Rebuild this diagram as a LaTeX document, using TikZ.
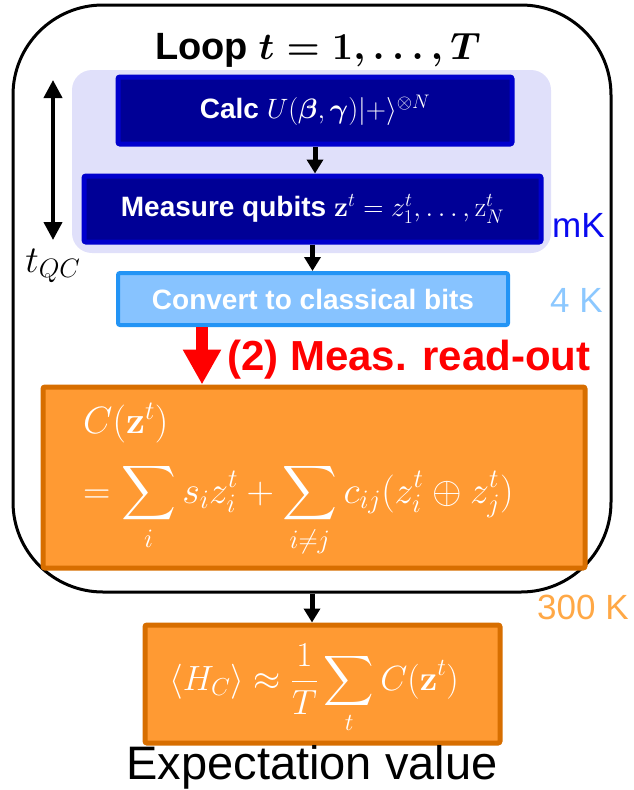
\RequirePackage{fix-cm}
\documentclass[tikz,border=0pt]{standalone}
\usepackage{amsmath}
\usepackage[no-math]{fontspec}
\setmainfont{Liberation Sans}
\DeclareFontShape{OMX}{cmex}{m}{n}{<->cmex10}{}
\usetikzlibrary{
    arrows.meta,
    positioning
}
\definecolor{navy}{RGB}{0,0,150}
\definecolor{navyedge}{RGB}{0,0,205}
\definecolor{lavender}{RGB}{224,224,250}
\definecolor{skyfill}{RGB}{135,195,255}
\definecolor{skyedge}{RGB}{35,148,245}
\definecolor{skytext}{RGB}{140,200,255}
\definecolor{mkblue}{RGB}{10,10,240}
\definecolor{orangefill}{RGB}{255,154,51}
\definecolor{orangeedge}{RGB}{215,110,0}
\definecolor{roomtext}{RGB}{255,168,70}
\newcommand{\boxfont}{\fontsize{28}{32}\selectfont\bfseries}
\newcommand{\titlefont}{\fontsize{38}{44}\selectfont\bfseries}
\newcommand{\tempfont}{\fontsize{35}{40}\selectfont}
\newcommand{\formfont}{\fontsize{38}{46}\selectfont}
\tikzstyle{loopbox} = [
    rectangle,
    rounded corners=90pt,
    draw=black,
    line width=3pt
]
\tikzstyle{zone} = [
    rectangle,
    rounded corners=20pt,
    fill=lavender
]
\tikzstyle{qbox} = [
    rectangle,
    rounded corners=2pt,
    draw=navyedge,
    line width=5pt,
    fill=navy,
    text=white,
    font=\boxfont
]
\tikzstyle{cbox} = [
    rectangle,
    rounded corners=2pt,
    draw=skyedge,
    line width=4pt,
    fill=skyfill,
    text=white,
    font=\boxfont
]
\tikzstyle{obox} = [
    rectangle,
    rounded corners=2pt,
    draw=orangeedge,
    line width=5pt,
    fill=orangefill
]
\tikzstyle{formula} = [
    text=white,
    font=\formfont,
    inner sep=0pt
]
\tikzstyle{templabel} = [
    font=\tempfont,
    inner sep=0pt,
    anchor=base west
]
\tikzstyle{flow} = [
    -{Triangle[length=14pt,width=16pt]},
    line width=5pt,
    draw=black
]
\tikzstyle{span} = [
    {Triangle[length=18pt,width=18pt]}-{Triangle[length=18pt,width=18pt]},
    line width=4pt,
    draw=black
]
\tikzstyle{readout} = [
    -{Triangle[length=35pt,width=36pt]},
    line width=12pt,
    draw=red
]

\begin{document}
\begin{tikzpicture}[x=1pt, y=-1pt]
        \useasboundingbox (0,0) rectangle (634,790);

        % Loop frame
        \node[loopbox, minimum width=598pt, minimum height=587pt] (loop) at (312,298.5) {};
        \node[font=\titlefont, anchor=base, inner sep=0pt] (title) at (318,59)
            {Loop {\boldmath$t = 1, \dots, T$}};

        % mK stage
        \node[zone, minimum width=479pt, minimum height=183pt] (cold) at (311.5,161.5) {};
        \node[qbox, minimum width=394pt, minimum height=67pt] (calc) at (315,110.5)
            {Calc $U(\boldsymbol{\beta},\boldsymbol{\gamma})|{+}\rangle^{\otimes N}$};
        \node[qbox, minimum width=457pt, minimum height=66pt] (meas) at (312.5,209)
            {Measure qubits $\mathbf{z}^t = z_1^t, \dots, \mathrm{z}_N^t$};
        \node[templabel, text=mkblue] (mk) at (552,237) {mK};

        % QC time
        \coordinate (tqtop) at (53,80);
        \coordinate (tqbot) at (53,240);
        \node[font=\fontsize{38}{44}\selectfont, inner sep=0pt] (tqc) at (53,266) {$t_{QC}$};

        % 4 K stage
        \node[cbox, minimum width=390pt, minimum height=52pt] (conv) at (313,299)
            {Convert to classical bits};
        \node[templabel, text=skytext] (fourk) at (550,312) {4 K};

        % Read-out
        \node[font=\fontsize{42}{48}\selectfont\bfseries, text=red, anchor=base west, inner sep=0pt]
            (readlbl) at (227,370) {(2) Meas. read-out};

        % Cost
        \node[obox, minimum width=542pt, minimum height=181pt] (cost) at (314,477.5) {};
        \node[formula, anchor=base west] (costa) at (83,433) {$C(\mathbf{z}^t)$};
        \node[formula, anchor=base west] (costb) at (83,503)
            {$\displaystyle = \sum_i s_i z_i^t + \sum_{i\neq j} c_{ij}(z_i^t \oplus z_j^t)$};

        % 300 K stage
        \node[templabel, text=roomtext] (roomk) at (537,619) {300 K};
        \node[obox, minimum width=355pt, minimum height=118pt] (expect) at (322.5,684) {};
        \node[formula, font=\fontsize{35}{42}\selectfont, anchor=base] (expform) at (314,690)
            {$\displaystyle \langle H_C\rangle \approx \frac{1}{T}\sum_t C(\mathbf{z}^t)$};
        \node[font=\fontsize{47}{54}\selectfont, anchor=base, inner sep=0pt] (explbl) at (312,779)
            {Expectation value};

        % Arrows
        \draw[flow] (calc.south) -- (calc.south |- meas.north);
        \draw[flow] (meas.south) -- (meas.south |- conv.north);
        \draw[span] (tqtop) -- (tqbot);
        \draw[readout] ([xshift=-111pt]conv.south) -- ([xshift=-112pt]cost.north);
        \draw[flow] (loop.south) -- (loop.south |- expect.north);
    \end{tikzpicture}
\end{document}
